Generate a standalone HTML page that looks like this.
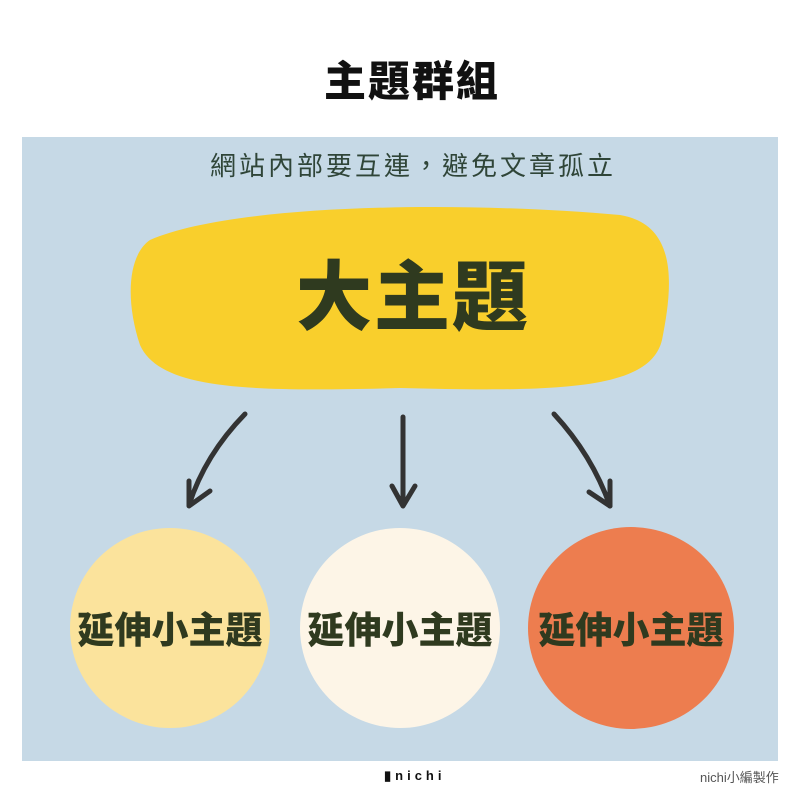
<!DOCTYPE html>
<html><head><meta charset="utf-8"><style>
body{margin:0;width:800px;height:800px;background:#fff;position:relative;overflow:hidden;font-family:"Liberation Sans","Noto Sans CJK TC",sans-serif}
.a{position:absolute;text-align:center}
</style></head><body>
<div class="a" style="left:0;width:824px;top:56px;font-size:42px;font-weight:900;color:#111;line-height:52px;letter-spacing:2px">主題群組</div>
<div class="a" style="left:22px;top:137px;width:756px;height:624px;background:#c6d9e6"></div>
<div class="a" style="left:0;width:826px;top:148px;font-size:26px;color:#2f4538;letter-spacing:3px;line-height:36px">網站內部要互連，避免文章孤立</div>
<svg class="a" style="left:0;top:0" width="800" height="800">
<path d="M150 240 C230 205 450 200 620 215 C680 225 672 290 662 340 C650 390 560 392 400 388 C250 392 160 390 140 345 C125 300 128 255 150 240Z" fill="#f9cf2c"/>
<ellipse cx="170" cy="628" rx="100" ry="100" fill="#fbe39c"/>
<ellipse cx="400" cy="628" rx="100" ry="100" fill="#fdf5e7"/>
<ellipse cx="631" cy="628" rx="103" ry="101" fill="#ed7d4f"/>
<g stroke="#333" stroke-width="5" fill="none" stroke-linecap="round" stroke-linejoin="round">
<path d="M245 414 Q205 455 189 505"/><path d="M189 481 L189 506 L210 491"/>
<path d="M403 417 L403 505"/><path d="M392 486 L403 506 L415 486"/>
<path d="M554 414 Q592 455 610 506"/><path d="M610 481 L610 506 L589 492"/>
</g>
</svg>
<div class="a" style="left:0;width:826px;top:254px;font-size:76px;font-weight:900;color:#2f3a1f;line-height:90px;letter-spacing:2px">大主題</div>
<div class="a" style="left:40px;width:260px;top:610px;font-size:37px;font-weight:900;color:#2f3a1f;line-height:42px">延伸小主題</div>
<div class="a" style="left:270px;width:260px;top:610px;font-size:37px;font-weight:900;color:#2f3a1f;line-height:42px">延伸小主題</div>
<div class="a" style="left:501px;width:260px;top:610px;font-size:37px;font-weight:900;color:#2f3a1f;line-height:42px">延伸小主題</div>
<div class="a" style="left:384px;top:768px;font-size:13px;color:#111;letter-spacing:4px;font-weight:bold">▮nichi</div>
<div class="a" style="left:700px;top:767px;font-size:13px;color:#555">nichi小編製作</div>
</body></html>
